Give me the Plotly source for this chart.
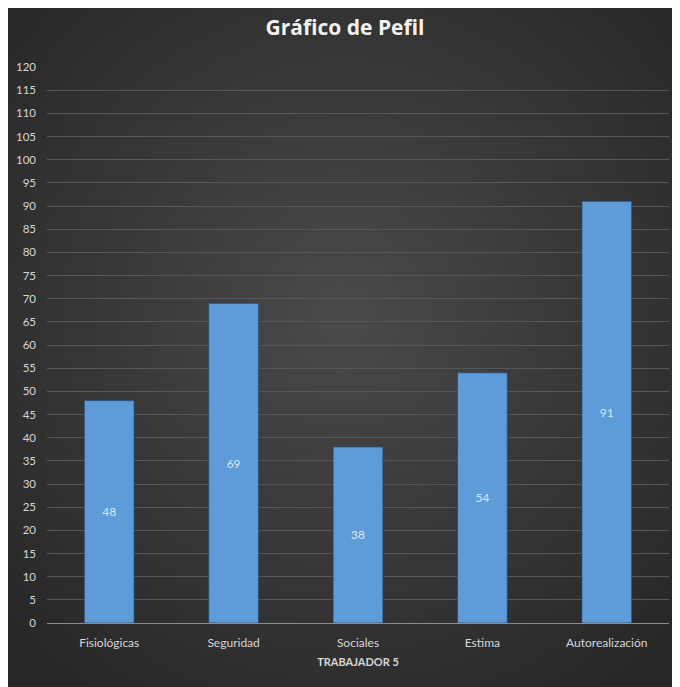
import base64
import plotly.graph_objects as go

categories = ["Fisiológicas", "Seguridad", "Sociales", "Estima", "Autorealización"]
values = [48, 69, 38, 54, 91]
y_ticks = list(range(0, 121, 5))
chart_title = "Gráfico de Pefil"
x_title = "TRABAJADOR 5"

# The page adds an 8px body margin, so the figure is sized to fill the rest.
W, H = 672, 679
ML, MR, MT, MB = 39, 11, 59, 64

svg = (
    '<svg xmlns="http://www.w3.org/2000/svg" width="672" height="679" viewBox="0 0 672 679" preserveAspectRatio="none">'
    '<defs><radialGradient id="g" cx="50%" cy="45%" r="70%">'
    '<stop offset="0%" stop-color="#4a4a4a"/>'
    '<stop offset="100%" stop-color="#262626"/>'
    '</radialGradient></defs>'
    '<rect width="672" height="679" fill="url(#g)"/></svg>'
)
bg_uri = "data:image/svg+xml;base64," + base64.b64encode(svg.encode()).decode()

fig = go.Figure()
fig.add_trace(go.Bar(
    x=categories,
    y=values,
    width=0.4,
    marker=dict(color="#5d9cd8", line=dict(color="rgba(35,70,110,0.7)", width=1)),
    text=[str(v) for v in values],
    textposition="inside",
    insidetextanchor="middle",
    textfont=dict(color="#dce6f2", size=12, family="Lato"),
    hoverinfo="x+y",
))

fig.update_layout(
    width=W,
    height=H,
    margin=dict(l=ML, r=MR, t=MT, b=MB, autoexpand=False),
    paper_bgcolor="#2e2e2e",
    plot_bgcolor="rgba(0,0,0,0)",
    showlegend=False,
    title=dict(
        text="<b>" + chart_title + "</b>",
        x=337 / W,
        xanchor="center",
        xref="container",
        y=1 - 19.5 / H,
        yref="container",
        yanchor="middle",
        font=dict(family="Open Sans", size=21, color="#f2f2f2"),
    ),
    images=[dict(
        source=bg_uri,
        xref="paper", yref="paper",
        x=-ML / (W - ML - MR), y=1 + MT / (H - MT - MB),
        sizex=W / (W - ML - MR), sizey=H / (H - MT - MB),
        xanchor="left", yanchor="top",
        sizing="stretch",
        layer="below",
    )],
    xaxis=dict(
        showgrid=False,
        tickfont=dict(family="Lato", size=12, color="#d6d6d6"),
        ticks="",
        ticklabelstandoff=9,
        title=dict(text="<b>" + x_title + "</b>",
                   font=dict(family="Lato", size=11, color="#d6d6d6"),
                   standoff=8),
        showline=True,
        linecolor="#8c8c8c",
        linewidth=1,
    ),
    yaxis=dict(
        range=[0, 120],
        tickvals=y_ticks,
        ticktext=[str(t) for t in y_ticks],
        showgrid=True,
        gridcolor="#575757",
        gridwidth=1,
        zeroline=False,
        tickfont=dict(family="Lato", size=11.5, color="#d6d6d6"),
        ticks="",
        ticklabelstandoff=10,
    ),
    bargap=0.6,
)

fig.write_html("out.html")
